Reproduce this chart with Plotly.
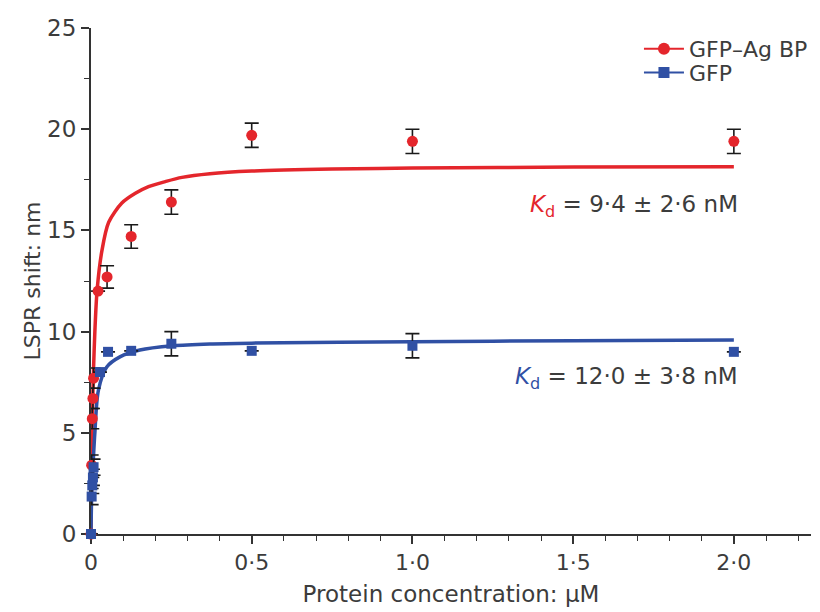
import plotly.graph_objects as go

# ---- data ----
conc_agbp = [0, 0.002, 0.004, 0.006, 0.008, 0.022, 0.05, 0.125, 0.25, 0.5, 1.0, 2.0]
shift_agbp = [0, 3.4, 5.7, 6.7, 7.7, 12.0, 12.7, 14.7, 16.4, 19.7, 19.4, 19.4]
err_agbp = [0, 0.5, 0.5, 0.5, 0.5, 0, 0.55, 0.58, 0.6, 0.6, 0.6, 0.6]

conc_gfp = [0, 0.002, 0.004, 0.006, 0.008, 0.028, 0.053, 0.125, 0.25, 0.5, 1.0, 2.0]
shift_gfp = [0, 1.85, 2.4, 2.8, 3.3, 8.0, 9.0, 9.05, 9.4, 9.05, 9.3, 9.0]
err_gfp = [0, 0.4, 0.4, 0.4, 0.4, 0, 0, 0, 0.6, 0, 0.6, 0]

fit_x_agbp = [0, 0.002, 0.004, 0.006, 0.008, 0.012, 0.019, 0.034, 0.055, 0.096, 0.138,
              0.179, 0.231, 0.283, 0.37, 0.5, 0.75, 1.0, 1.5, 2.0]
fit_y_agbp = [0, 3.4, 5.6, 7.0, 8.2, 10.0, 12.05, 14.0, 15.4, 16.35, 16.83,
              17.16, 17.41, 17.62, 17.8, 17.93, 18.03, 18.08, 18.13, 18.15]

fit_x_gfp = [0, 0.002, 0.004, 0.008, 0.012, 0.023, 0.049, 0.09, 0.152, 0.255, 0.37,
             0.5, 1.0, 1.5, 2.0]
fit_y_gfp = [0, 1.9, 2.6, 3.9, 5.0, 7.1, 8.25, 8.75, 9.09, 9.3, 9.39,
             9.43, 9.5, 9.55, 9.58]

x_tickvals = [0, 0.5, 1.0, 1.5, 2.0]
x_ticktext = ["0", "0·5", "1·0", "1·5", "2·0"]
y_tickvals = [0, 5, 10, 15, 20, 25]

RED = "#e4262c"
BLUE = "#3050a4"
TXT = "#3c3c3c"
FONT = "DejaVu Sans"

fig = go.Figure()

# fitted curves
fig.add_trace(go.Scatter(x=fit_x_agbp, y=fit_y_agbp, mode="lines",
                         line=dict(color=RED, width=3.5, shape="spline", smoothing=0.8),
                         showlegend=False, hoverinfo="skip"))
fig.add_trace(go.Scatter(x=fit_x_gfp, y=fit_y_gfp, mode="lines",
                         line=dict(color=BLUE, width=3.5, shape="spline", smoothing=0.8),
                         showlegend=False, hoverinfo="skip"))

# data points
fig.add_trace(go.Scatter(x=conc_agbp, y=shift_agbp, mode="markers", name="GFP–Ag BP",
                         marker=dict(color=RED, size=11, symbol="circle"),
                         error_y=dict(type="data", array=err_agbp, color="#1a1a1a",
                                      thickness=1.6, width=7),
                         cliponaxis=False, showlegend=False))
fig.add_trace(go.Scatter(x=conc_gfp, y=shift_gfp, mode="markers", name="GFP",
                         marker=dict(color=BLUE, size=10, symbol="square"),
                         error_y=dict(type="data", array=err_gfp, color="#1a1a1a",
                                      thickness=1.6, width=7),
                         cliponaxis=False, showlegend=False))

# legend entries (two legends so the rows can be spaced like the reference)
fig.add_trace(go.Scatter(x=[None], y=[None], mode="lines+markers", name="GFP–Ag BP",
                         line=dict(color=RED, width=2),
                         marker=dict(color=RED, size=12, symbol="circle"),
                         legend="legend"))
fig.add_trace(go.Scatter(x=[None], y=[None], mode="lines+markers", name="GFP",
                         line=dict(color=BLUE, width=2),
                         marker=dict(color=BLUE, size=11, symbol="square"),
                         legend="legend2"))

fig.add_annotation(x=2.02, y=16.2, xref="x", yref="y", xanchor="right", yanchor="middle",
                   text=f'<span style="color:{RED}"><i>K</i><sub>d</sub></span> = 9·4 ± 2·6 nM',
                   showarrow=False, font=dict(family=FONT, size=23, color=TXT))
fig.add_annotation(x=2.02, y=7.7, xref="x", yref="y", xanchor="right", yanchor="middle",
                   text=f'<span style="color:{BLUE}"><i>K</i><sub>d</sub></span> = 12·0 ± 3·8 nM',
                   showarrow=False, font=dict(family=FONT, size=23, color=TXT))

legend_style = dict(xanchor="left", yanchor="top", bgcolor="rgba(0,0,0,0)",
                    font=dict(family=FONT, size=22, color=TXT), itemwidth=40)

# the page has an 8px body margin, so the figure is sized to fit inside the window
fig.update_layout(
    width=812, height=604,
    margin=dict(l=83, r=8, t=20, b=78),
    paper_bgcolor="white", plot_bgcolor="white",
    font=dict(family=FONT, size=20, color=TXT),
    legend=dict(x=0.76, y=1.0, **legend_style),
    legend2=dict(x=0.76, y=0.953, **legend_style),
    xaxis=dict(range=[0, 2.24], tickmode="array", tickvals=x_tickvals, ticktext=x_ticktext,
               ticks="outside", ticklen=8, tickwidth=1.5, tickcolor="#333",
               showline=True, linecolor="#333", linewidth=2, showgrid=False, zeroline=False,
               minor=dict(tickmode="linear", tick0=0, dtick=0.1, ticks="outside",
                          ticklen=5, tickwidth=1.2, tickcolor="#333", showgrid=False),
               tickfont=dict(family=FONT, size=22, color=TXT),
               title=dict(text="Protein concentration: µM", standoff=11,
                          font=dict(family=FONT, size=23, color=TXT)),
               automargin=False, layer="below traces"),
    yaxis=dict(range=[0, 25], tickmode="array", tickvals=y_tickvals,
               ticks="outside", ticklen=8, tickwidth=1.5, tickcolor="#333",
               showline=True, linecolor="#333", linewidth=2, showgrid=False, zeroline=False,
               minor=dict(tickmode="linear", tick0=0, dtick=2.5, ticks="outside",
                          ticklen=5, tickwidth=1.2, tickcolor="#333", showgrid=False),
               tickfont=dict(family=FONT, size=23, color=TXT),
               title=dict(text="LSPR shift: nm", standoff=0,
                          font=dict(family=FONT, size=22, color=TXT)),
               automargin=False, layer="below traces"),
)

fig.write_html("out.html")
